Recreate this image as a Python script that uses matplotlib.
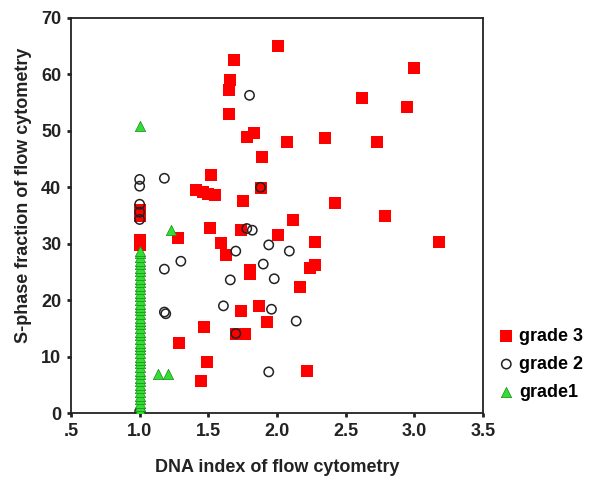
import matplotlib
matplotlib.use("Agg")
import matplotlib.pyplot as plt

plt.rcParams['font.family'] = ['Liberation Sans', 'DejaVu Sans']

# grade 3 (red squares)
g3_x = [2.01, 1.69, 1.66, 1.65, 3.00, 2.62, 2.95, 1.65, 1.78, 1.83, 2.07, 2.35, 2.73,
        1.89, 1.52, 1.41, 1.46, 1.50, 1.55, 1.88, 1.75, 2.42, 2.79, 2.12, 1.51, 1.74,
        2.01, 1.28, 1.00, 1.00, 1.00, 1.00, 2.28, 3.18, 1.59, 1.63, 2.24, 2.28, 1.80,
        1.80, 2.17, 1.87, 1.74, 1.93, 1.47, 1.70, 1.77, 1.29, 1.49, 2.22, 1.45]
g3_y = [65.1, 62.6, 59.0, 57.3, 61.1, 55.8, 54.2, 53.0, 49.0, 49.6, 48.1, 48.7, 48.1,
        45.4, 42.2, 39.6, 39.1, 38.9, 38.6, 39.8, 37.5, 37.2, 34.9, 34.2, 32.8, 32.5,
        31.5, 31.0, 30.6, 29.8, 36.0, 35.0, 30.3, 30.4, 30.2, 28.0, 25.7, 26.2, 25.4,
        24.6, 22.3, 18.9, 18.0, 16.2, 15.3, 14.1, 14.1, 12.4, 9.1, 7.5, 5.6]

# grade 2 (open circles)
g2_x = [1.80, 1.00, 1.00, 1.18, 1.88, 1.00, 1.00, 1.00, 1.78, 1.82, 1.70, 1.94, 2.09,
        1.30, 1.18, 1.90, 1.66, 1.98, 1.61, 1.96, 2.14, 1.18, 1.19, 1.70, 1.94, 1.00]
g2_y = [56.3, 41.4, 40.2, 41.6, 40.0, 37.0, 35.6, 34.3, 32.7, 32.4, 28.7, 29.8, 28.7,
        26.9, 25.5, 26.4, 23.6, 23.8, 19.0, 18.4, 16.3, 17.9, 17.6, 14.1, 7.3, 0.3]

# grade 1 (green triangles); many cases sit on DNA index 1.0
g1_col = [0, 0.6, 1.2, 1.8, 2.5, 3.1, 3.7, 4.4, 5.0, 5.6, 6.2, 6.9, 7.5, 8.1, 8.8,
          9.4, 10.0, 10.6, 11.3, 11.9, 12.5, 13.2, 13.8, 14.4, 15.0, 15.7, 16.3,
          16.9, 17.6, 18.2, 18.8, 19.4, 20.1, 20.7, 21.3, 22.0, 22.6, 23.2, 23.8,
          24.5, 25.1, 25.7, 26.4, 27.0, 27.6, 28.3, 28.8]
g1_x = [1.00, 1.23, 1.13, 1.21] + [1.00] * len(g1_col)
g1_y = [50.8, 32.4, 6.9, 7.0] + g1_col

xticks = [0.5, 1.0, 1.5, 2.0, 2.5, 3.0, 3.5]
xtick_labels = ['.5', '1.0', '1.5', '2.0', '2.5', '3.0', '3.5']
yticks = [0, 10, 20, 30, 40, 50, 60, 70]

fig = plt.figure(figsize=(5.94, 4.86), dpi=100)
ax = fig.add_axes([0.1195, 0.150, 0.6936, 0.813])

ax.scatter(g3_x, g3_y, marker='s', s=68, color='#ff0000', linewidths=0, label='grade 3', zorder=3)
ax.scatter(g2_x, g2_y, marker='o', s=45, facecolors='none', edgecolors='#222222',
           linewidths=1.1, label='grade 2', zorder=4)
ax.scatter(g1_x, g1_y, marker='^', s=55, color='#33dd33', edgecolors='#1a8a1a',
           linewidths=0.5, label='grade1', zorder=5)

ax.set_xlim(0.5, 3.5)
ax.set_ylim(0, 70)
ax.set_xticks(xticks)
ax.set_xticklabels(xtick_labels)
ax.set_yticks(yticks)
ax.tick_params(direction='out', length=3, width=2, labelsize=13, colors='#222222', pad=4)
for lab in ax.get_xticklabels() + ax.get_yticklabels():
    lab.set_fontweight('bold')
for sp in ax.spines.values():
    sp.set_color('#222222')
    sp.set_linewidth(1.3)

ax.set_xlabel('DNA index of flow cytometry', fontsize=13, fontweight='bold', color='#222222', labelpad=14)
ax.set_ylabel('S-phase fraction of flow cytometry', fontsize=13, fontweight='bold', color='#222222')
ax.yaxis.set_label_coords(-0.095, 0.55)

handles, labels = ax.get_legend_handles_labels()
fig.legend(handles, labels, loc='upper left', bbox_to_anchor=(0.825, 0.34),
           frameon=False, prop={'weight': 'bold', 'size': 13},
           handletextpad=0.2, labelspacing=0.6, borderaxespad=0, handlelength=1.0)

fig.savefig('out.png', dpi=100)
